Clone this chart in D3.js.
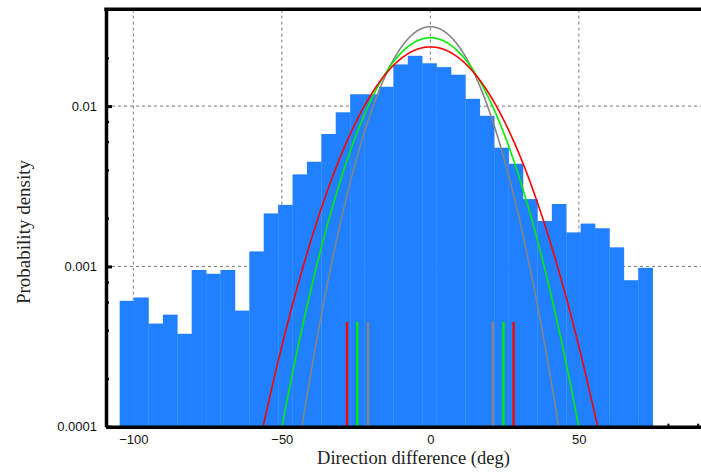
<!DOCTYPE html>
<html>
<head>
<meta charset="utf-8">
<script src="https://cdn.jsdelivr.net/npm/d3@7"></script>
<style>
  html, body { margin: 0; padding: 0; background: #fff; }
  svg { display: block; }
</style>
</head>
<body>
<svg id="chart" width="701" height="472"></svg>
<script>
// Histogram of direction differences (probability density per bin)
const binStart = -104.6;   // left edge of the first bin (deg)
const binWidth = 4.85;     // bin width (deg)
const density = [
  6.1e-4, 6.4e-4, 4.4e-4, 5.0e-4, 3.8e-4, 9.5e-4, 9.0e-4, 9.5e-4, 5.3e-4, 1.24e-3,
  2.14e-3, 2.42e-3, 3.75e-3, 4.5e-3, 6.7e-3, 9.15e-3, 1.185e-2, 1.185e-2, 1.32e-2, 1.82e-2,
  2.06e-2, 1.85e-2, 1.75e-2, 1.57e-2, 1.11e-2, 8.7e-3, 5.5e-3, 4.37e-3, 2.63e-3, 1.92e-3,
  2.45e-3, 1.63e-3, 1.85e-3, 1.73e-3, 1.315e-3, 8.2e-4, 9.8e-4
];

// Fitted normal densities (zero mean) and their 90% interval half-widths
const fitNames   = ["gray", "green", "red"];
const fitColors  = ["#858585", "#00ee00", "#ff0000"];
const fitSigmas  = [12.75, 14.95, 17.05];
const fitBounds  = [21.0, 24.6, 28.05];
const boundTop   = 4.5e-4;

// Axis ticks
const xTicks      = [-100, -50, 0, 50];
const xMinorTicks = [-100, -90, -80, -70, -60, -50, -40, -30, -20, -10, 0, 10, 20, 30, 40, 50, 60, 70, 80, 90];
const yTicks      = [0.0001, 0.001, 0.01];
const yTickLabels = ["0.0001", "0.001", "0.01"];
const yMinorTicks = [0.0002, 0.0004, 0.0006, 0.0008, 0.002, 0.004, 0.006, 0.008, 0.02];

const svg = d3.select("#chart");
const plotLeft = 106, plotRight = 703, plotTop = 9.6, plotBottom = 426.7;

const x = d3.scaleLinear().domain([-109.2, 91.8]).range([plotLeft, plotRight]);
const y = d3.scaleLog().domain([1e-4, 0.04]).range([plotBottom, plotTop]);

svg.append("defs").append("clipPath").attr("id", "plotClip")
  .append("rect").attr("x", plotLeft).attr("y", plotTop)
  .attr("width", plotRight - plotLeft).attr("height", plotBottom - plotTop);

// Dashed grid
const grid = svg.append("g").attr("stroke", "#7a7a7a").attr("stroke-width", 1)
  .attr("stroke-dasharray", "3,3").attr("fill", "none");
grid.selectAll("line.v").data(xTicks).join("line").attr("class", "v")
  .attr("x1", d => x(d)).attr("x2", d => x(d)).attr("y1", plotTop).attr("y2", plotBottom);
grid.selectAll("line.h").data([0.001, 0.01]).join("line").attr("class", "h")
  .attr("x1", plotLeft).attr("x2", plotRight).attr("y1", d => y(d)).attr("y2", d => y(d));

// Bottom ticks pointing into the plot (under the bars)
const xMinorAxis = d3.axisBottom(x).tickValues(xMinorTicks).tickSizeInner(-3).tickSizeOuter(0).tickFormat("");
const gxm = svg.append("g").attr("transform", `translate(0,${plotBottom})`).call(xMinorAxis);
gxm.select(".domain").remove();
gxm.selectAll(".tick line").attr("stroke", "#000").attr("stroke-width", 2);

// Histogram bars
const bins = density.map((v, i) => ({ x0: binStart + i * binWidth, x1: binStart + (i + 1) * binWidth, v }));
svg.append("g").attr("clip-path", "url(#plotClip)")
  .selectAll("rect").data(bins).join("rect")
  .attr("x", d => x(d.x0))
  .attr("width", d => x(d.x1) - x(d.x0) + 0.3)
  .attr("y", d => y(d.v))
  .attr("height", d => plotBottom - y(d.v))
  .attr("fill", "#2180ff");

// Fitted normal curves
const curves = svg.append("g").attr("clip-path", "url(#plotClip)");
fitSigmas.forEach((s, k) => {
  const pts = d3.range(-70, 70.01, 0.25).map(t => [t, Math.exp(-t * t / (2 * s * s)) / (s * Math.sqrt(2 * Math.PI))]);
  const line = d3.line().x(d => x(d[0])).y(d => y(Math.max(d[1], 1e-6)));
  curves.append("path").datum(pts).attr("d", line)
    .attr("fill", "none").attr("stroke", fitColors[k]).attr("stroke-width", 1.6)
    .attr("class", "fit-" + fitNames[k]);
});

// Interval markers
const markers = [];
fitBounds.forEach((b, k) => { markers.push({ v: -b, c: fitColors[k] }); markers.push({ v: b, c: fitColors[k] }); });
svg.append("g").selectAll("line").data(markers).join("line")
  .attr("x1", d => x(d.v)).attr("x2", d => x(d.v))
  .attr("y1", y(boundTop)).attr("y2", plotBottom)
  .attr("stroke", d => d.c).attr("stroke-width", 2.4);

// Bottom axis line and labels
const xAxis = d3.axisBottom(x).tickValues(xTicks).tickSizeInner(0).tickSizeOuter(0).tickPadding(8.5)
  .tickFormat(d3.format("d"));
const gx = svg.append("g").attr("transform", `translate(0,${plotBottom})`).call(xAxis);
gx.select(".domain").attr("stroke", "#000").attr("stroke-width", 3.5);
gx.selectAll(".tick line").remove();
gx.selectAll(".tick text").attr("font-family", "'Liberation Sans', Arial, sans-serif")
  .attr("font-size", 13).attr("fill", "#111");

// Left axis with minor ticks
const yMinorAxis = d3.axisLeft(y).tickValues(yMinorTicks).tickSizeInner(-3).tickSizeOuter(0).tickFormat("");
const gym = svg.append("g").attr("transform", `translate(${plotLeft},0)`).call(yMinorAxis);
gym.select(".domain").remove();
gym.selectAll(".tick line").attr("stroke", "#000").attr("stroke-width", 2.5);

const yAxis = d3.axisLeft(y).tickValues(yTicks).tickSizeInner(-6).tickSizeOuter(0).tickPadding(9)
  .tickFormat((d, i) => yTickLabels[i]);
const gy = svg.append("g").attr("transform", `translate(${plotLeft},0)`).call(yAxis);
gy.select(".domain").attr("stroke", "#000").attr("stroke-width", 3.5);
gy.selectAll(".tick line").attr("stroke", "#000").attr("stroke-width", 3);
gy.selectAll(".tick text").attr("font-family", "'Liberation Sans', Arial, sans-serif")
  .attr("font-size", 13).attr("fill", "#111");

// Top frame line
svg.append("line").attr("x1", plotLeft - 1.75).attr("x2", 701).attr("y1", 9.3).attr("y2", 9.3)
  .attr("stroke", "#000").attr("stroke-width", 3.5);

// Axis titles
svg.append("text").attr("x", 413.5).attr("y", 464)
  .attr("text-anchor", "middle")
  .attr("font-family", "'Liberation Serif', 'Times New Roman', serif").attr("font-size", 18.5).attr("fill", "#222")
  .text("Direction difference (deg)");
svg.append("text").attr("transform", "translate(29.5,232) rotate(-90)")
  .attr("text-anchor", "middle")
  .attr("font-family", "'Liberation Serif', 'Times New Roman', serif").attr("font-size", 19).attr("fill", "#222")
  .text("Probability density");
</script>
</body>
</html>
